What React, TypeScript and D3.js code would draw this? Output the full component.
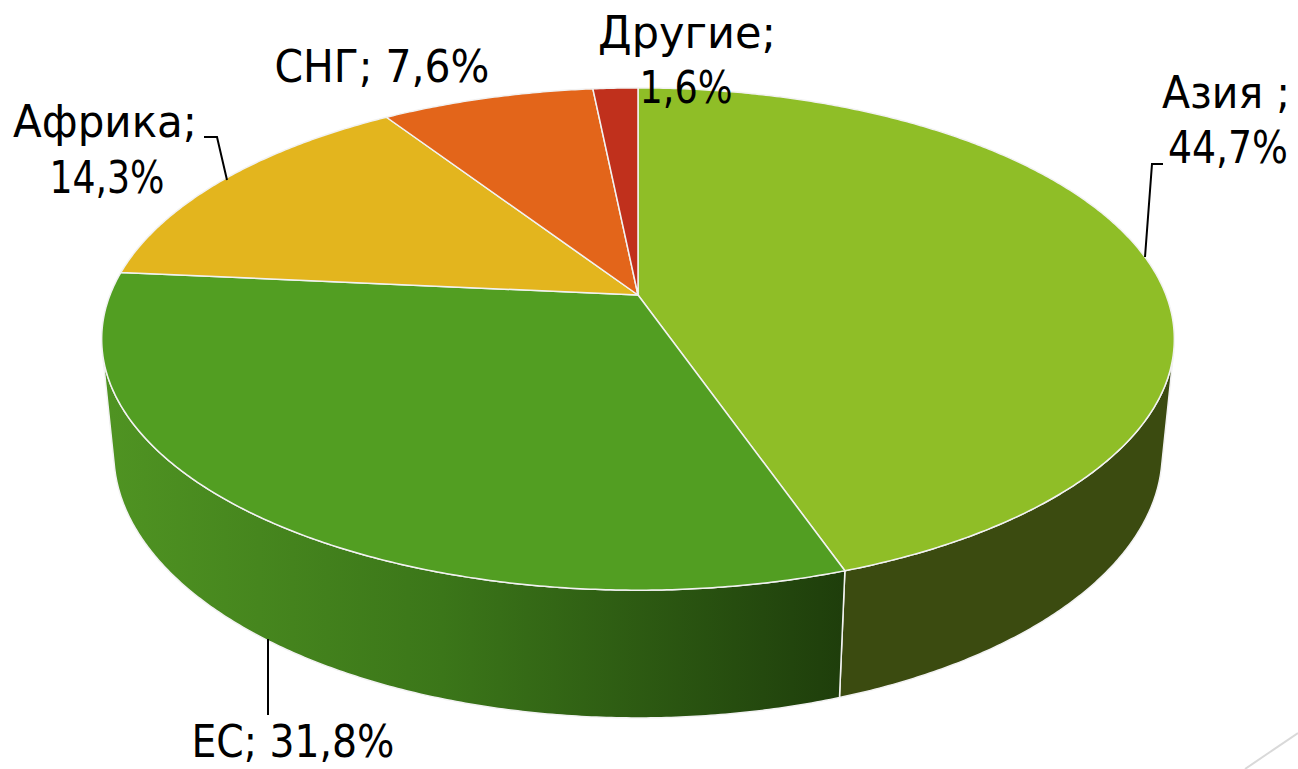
import * as d3 from 'd3';

const categories = ['Азия', 'ЕС', 'Африка', 'СНГ', 'Другие'];
const values = [44.7, 31.8, 14.3, 7.6, 1.6];
const topColors = ['#8fbe27', '#529e22', '#e3b51e', '#e3651a', '#c0301c'];
const sideColors = ['#3b4b10', 'url(#ecSide)', '#9a7a12', '#9a4410', '#80200f'];
// label text, split in lines as in the picture
const labelLines = [
  ['Азия ;', '44,7%'],
  ['ЕС; 31,8%'],
  ['Африка;', '14,3%'],
  ['СНГ; 7,6%'],
  ['Другие;', '1,6%'],
];

const W = 1298;
const H = 769;

// projection of the tilted cylinder (radius 1)
const cx = 638;
const cy = 295;
const k = 528;
const r = 0.1976;
const sinA = 0.461;
const cosA = Math.sqrt(1 - sinA * sinA);
const depthH = 0.245;

function project(theta: number, z: number, rad = 1): [number, number] {
  const x = rad * Math.sin(theta);
  const y = -rad * Math.cos(theta);
  const depth = 1 - r * (y * cosA + z * sinA);
  const v = -y * sinA + z * cosA;
  return [cx + (k * x) / depth, cy - (k * v) / depth];
}

function arcPoints(a0: number, a1: number, z: number) {
  const n = Math.max(2, Math.ceil(Math.abs(a1 - a0) / 0.008));
  return d3.range(n + 1).map(i => project(a0 + ((a1 - a0) * i) / n, z));
}

const line = d3.line();

// wall faces the camera when cos(theta) < -r / cosA
const faceLimit = Math.acos(-r / cosA);
const faceStart = faceLimit;
const faceEnd = 2 * Math.PI - faceLimit;

const labelPos = [
  { x: [1226, 1228], y: [108, 163], w: [128, 120] },
  { x: [293], y: [757], w: [203] },
  { x: [105, 107], y: [137, 193], w: [184, 115] },
  { x: [382], y: [82], w: [215] },
  { x: [687, 686], y: [48, 103], w: [178, 93] },
];

const leaders: [number, number][][] = [
  [[1145, 257], [1152, 164], [1163, 164]],
  [[268, 639], [268, 715]],
  [[227, 180], [217, 137], [204, 137]],
];

export default function App() {
  const arcs = d3.pie<number>().sort(null).startAngle(0).endAngle(2 * Math.PI)(values);

  const walls = arcs
    .map((a, i) => {
      const s = Math.max(a.startAngle, faceStart);
      const e = Math.min(a.endAngle, faceEnd);
      if (e <= s) return null;
      const pts = [...arcPoints(s, e, 0), ...arcPoints(e, s, -depthH)];
      return { i, d: line(pts) + 'Z' };
    })
    .filter(Boolean) as { i: number; d: string }[];

  const tops = arcs.map((a, i) => {
    const pts = [project(0, 0, 0), ...arcPoints(a.startAngle, a.endAngle, 0)];
    return { i, d: line(pts) + 'Z' };
  });

  return (
    <svg width={W} height={H} style={{ position: 'absolute', left: 0, top: 0, background: '#fff' }}>
      <defs>
        <linearGradient id="ecSide" gradientUnits="userSpaceOnUse" x1={110} y1={0} x2={848} y2={0}>
          <stop offset="0" stopColor="#4f9322" />
          <stop offset="0.45" stopColor="#3b7619" />
          <stop offset="1" stopColor="#1e3d0b" />
        </linearGradient>
      </defs>
      {walls.map(w => (
        <path key={'w' + w.i} d={w.d} fill={sideColors[w.i]} stroke="#f2f2f2" strokeWidth={1.5} strokeLinejoin="round" />
      ))}
      {tops.map(t => (
        <path key={'t' + t.i} d={t.d} fill={topColors[t.i]} stroke="#f2f2f2" strokeWidth={1.5} strokeLinejoin="round" />
      ))}
      {leaders.map((pts, i) => (
        <path key={'l' + i} d={line(pts) ?? ''} fill="none" stroke="#000" strokeWidth={2} />
      ))}
      {labelLines.map((lines, i) =>
        lines.map((txt, j) => (
          <text
            key={categories[i] + j}
            x={labelPos[i].x[j]}
            y={labelPos[i].y[j]}
            textAnchor="middle"
            textLength={labelPos[i].w[j]}
            lengthAdjust="spacingAndGlyphs"
            fontFamily="'Liberation Sans Narrow', 'DejaVu Sans Condensed', 'Liberation Sans', sans-serif"
            fontSize={44}
            fill="#000"
          >
            {txt}
          </text>
        ))
      )}
      <line x1={1245} y1={769} x2={1298} y2={733} stroke="#d9d9d9" strokeWidth={2} />
    </svg>
  );
}
